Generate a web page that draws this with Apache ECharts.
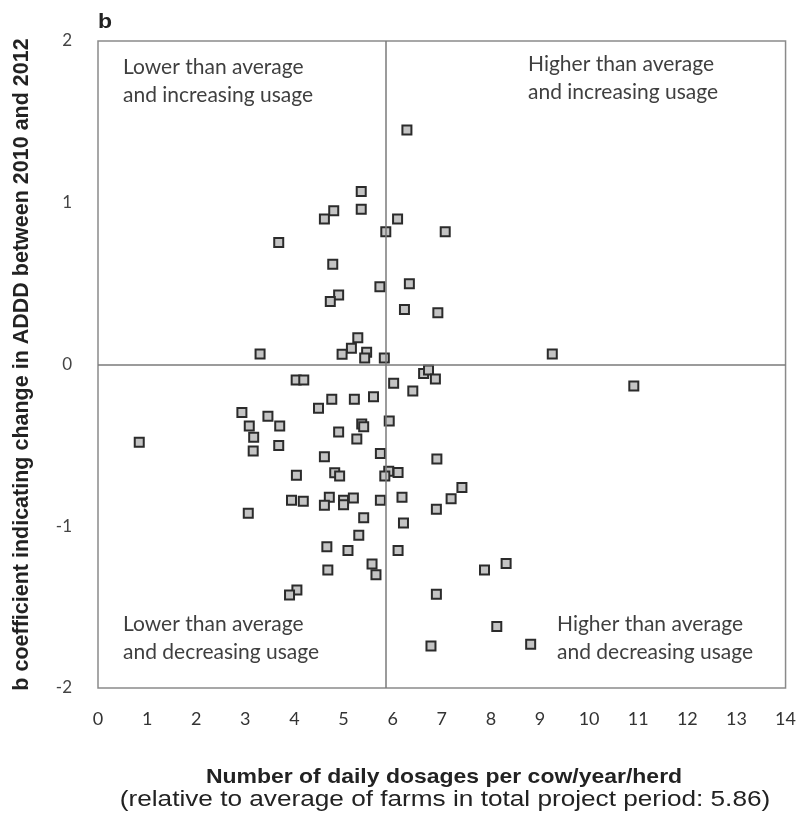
<!DOCTYPE html>
<html><head><meta charset="utf-8">
<script src="https://cdn.jsdelivr.net/npm/echarts@6/dist/echarts.min.js"></script>
<style>html,body{margin:0;padding:0;background:#fff}#c{width:799px;height:819px}</style>
</head><body><div id="c"></div>
<script>
// Data: [dosage (x), b coefficient (y)]
const increasingFarms = [
  [6.29,1.45],[5.36,1.07],[5.36,0.96],[4.80,0.95],[4.61,0.90],[6.10,0.90],[5.86,0.82],[7.07,0.82],
  [3.68,0.755],[4.78,0.62],[5.74,0.48],[6.34,0.50],[4.90,0.43],[4.73,0.39],[6.24,0.34],[6.92,0.32],
  [3.30,0.065],[5.29,0.165],[5.16,0.10],[4.97,0.063],[5.47,0.075],[5.43,0.04],[5.83,0.04],[9.25,0.065]
];
const decreasingHigh = [
  [6.63,-0.055],[6.73,-0.034],[6.87,-0.09],[6.02,-0.116],[6.41,-0.164],[10.91,-0.133],[5.93,-0.35],
  [6.90,-0.584],[5.92,-0.66],[6.11,-0.667],[6.19,-0.82],[7.41,-0.76],[7.19,-0.83],[6.89,-0.895],
  [6.22,-0.98],[6.11,-1.15],[7.87,-1.27],[8.31,-1.23],[6.89,-1.42],[8.12,-1.62],[6.78,-1.74],[8.81,-1.73]
];
const decreasingLow = [
  [5.75,-0.55],[5.84,-0.69],[5.75,-0.84],[5.66,-1.30],
  [4.035,-0.096],[4.19,-0.096],[4.76,-0.215],[4.49,-0.27],[5.22,-0.215],[5.61,-0.20],[2.93,-0.296],
  [3.46,-0.32],[3.70,-0.38],[3.08,-0.38],[3.17,-0.45],[3.16,-0.535],[3.68,-0.50],[0.84,-0.48],
  [4.90,-0.417],[5.37,-0.368],[5.41,-0.385],[5.27,-0.46],[4.61,-0.57],[4.04,-0.685],[4.82,-0.67],
  [4.92,-0.69],[3.94,-0.84],[4.18,-0.846],[4.71,-0.82],[4.61,-0.87],[5.00,-0.84],[5.00,-0.867],
  [5.20,-0.825],[3.06,-0.92],[5.41,-0.947],[5.31,-1.056],[4.66,-1.126],[5.09,-1.15],[5.58,-1.233],
  [4.68,-1.27],[4.05,-1.394],[3.90,-1.425]
];
const averageDosage = 5.86;
const xTicks = [0,1,2,3,4,5,6,7,8,9,10,11,12,13,14];
const yTicks = [-2,-1,0,1,2];
const quadrantLabels = [
  'Lower than average\nand increasing usage',
  'Higher than average\nand increasing usage',
  'Lower than average\nand decreasing usage',
  'Higher than average\nand decreasing usage'
];
const xTitle = 'Number of daily dosages per cow/year/herd';
const xSubtitle = '(relative to average of farms in total project period: 5.86)';
const yTitle = 'b coefficient indicating change in ADDD between 2010 and 2012';

const allPoints = increasingFarms.concat(decreasingHigh, decreasingLow);
const chart = echarts.init(document.getElementById('c'));
const qStyle = {fontFamily:'Lato', fontSize:21, fill:'#3f3f3f', lineHeight:28};
chart.setOption({
  animation:false,
  grid:{left:98, right:13, top:41, bottom:131, show:true, borderColor:'#8a8a8a', borderWidth:1.5},
  xAxis:{type:'value', min:xTicks[0], max:xTicks[xTicks.length-1], interval:1,
    axisLine:{show:false}, axisTick:{show:false}, splitLine:{show:false},
    axisLabel:{margin:22, fontFamily:'Lato', fontSize:18, color:'#333'}
  },
  yAxis:{type:'value', min:yTicks[0], max:yTicks[yTicks.length-1], interval:1,
    axisLine:{show:false}, axisTick:{show:false}, splitLine:{show:false},
    axisLabel:{margin:26, fontFamily:'Lato', fontSize:17, color:'#444'},
    name:yTitle, nameLocation:'middle', nameGap:65, nameRotate:90,
    nameTextStyle:{fontFamily:'Liberation Sans', fontWeight:'bold', fontSize:21.5, color:'#222'}
  },
  graphic:[
    {type:'text', x:98, y:12, scaleX:1.15, style:{text:'b', fontFamily:'Liberation Sans', fontWeight:'bold', fontSize:20, fill:'#222'}},
    {type:'text', left:123, top:53, style:Object.assign({text:quadrantLabels[0]}, qStyle)},
    {type:'text', left:528, top:50, style:Object.assign({text:quadrantLabels[1]}, qStyle)},
    {type:'text', left:123, top:610, style:Object.assign({text:quadrantLabels[2]}, qStyle)},
    {type:'text', left:557, top:610, style:Object.assign({text:quadrantLabels[3]}, qStyle)},
    {type:'text', x:444, y:777, scaleX:1.094, style:{text:xTitle, align:'center', verticalAlign:'middle',
      fontFamily:'Liberation Sans', fontWeight:'bold', fontSize:21, fill:'#222'}},
    {type:'text', x:445, y:800, scaleX:1.19, style:{text:xSubtitle, align:'center', verticalAlign:'middle',
      fontFamily:'Liberation Sans', fontSize:22, fill:'#222'}}
  ],
  series:[{
    type:'scatter', data:allPoints, symbol:'rect', symbolSize:9,
    itemStyle:{color:'#c4c4c4', borderColor:'#2b2b2b', borderWidth:2, opacity:1},
    markLine:{silent:true, symbol:'none', label:{show:false},
      lineStyle:{color:'#7a7a7a', width:1.5, type:'solid'},
      data:[{xAxis:averageDosage},{yAxis:0}]}
  }]
});
</script></body></html>
